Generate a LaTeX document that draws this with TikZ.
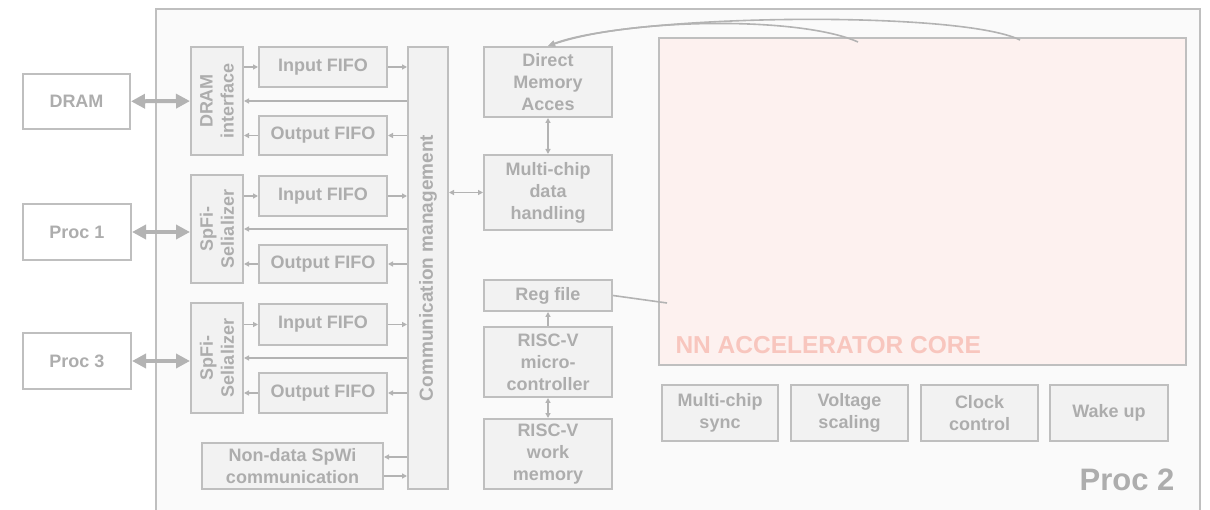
\documentclass[tikz,border=0pt]{standalone}
\usepackage{fontspec}
\setmainfont{Liberation Sans}
\usepackage{xcolor}
\usetikzlibrary{arrows.meta,calc}

\definecolor{boxline}{HTML}{BFBFBF}
\definecolor{boxfill}{HTML}{F2F2F2}
\definecolor{chipfill}{HTML}{FAFAFA}
\definecolor{boxtext}{HTML}{ADADAD}
\definecolor{wirecol}{HTML}{B3B3B3}
\definecolor{corefill}{HTML}{FDF1EF}
\definecolor{coretext}{HTML}{F8C6BE}

\begin{document}
\begin{tikzpicture}[x=1pt,y=-1pt,
    blk/.style={draw=boxline,line width=2pt,fill=boxfill,text=boxtext,inner sep=0pt,
      font=\fontsize{18}{22}\selectfont\bfseries,align=center},
    extblk/.style={blk,fill=white},
    vtext/.style={rotate=90,text=boxtext,font=\fontsize{18}{21}\selectfont\bfseries,align=center},
    wire/.style={draw=wirecol,line width=1.6pt,-{Triangle[length=5pt,width=5pt]}},
    dwire/.style={wire,{Triangle[length=5pt,width=5pt]}-{Triangle[length=5pt,width=5pt]}},
    bus/.style={draw=wirecol,line width=4pt,{Triangle[length=14pt,width=14pt]}-{Triangle[length=14pt,width=14pt]}}]
  \useasboundingbox (0,0) rectangle (1210,510);
  \clip (0,0) rectangle (1210,510);

  % the chip itself
  \node[draw=boxline,line width=2pt,fill=chipfill,inner sep=0pt,anchor=north west,
        minimum width=1044pt,minimum height=530pt] (proc2) at (155,8) {};
  \node[text=boxtext,font=\fontsize{31}{31}\selectfont\bfseries] (p2name) at (1127,480) {Proc 2};

  % outside world
  \node[extblk,minimum width=107pt,minimum height=55pt] (dram) at (76.5,101.5) {DRAM};
  \node[extblk,minimum width=108pt,minimum height=56pt] (proc1) at (77,232) {Proc 1};
  \node[extblk,minimum width=108pt,minimum height=56pt] (proc3) at (77,361) {Proc 3};

  % link interfaces
  \node[blk,minimum width=52pt,minimum height=108pt] (dramif) at (217,101) {};
  \node[vtext] at (dramif) {DRAM\\interface};
  \node[blk,minimum width=52pt,minimum height=108pt] (ser1) at (217,229) {};
  \node[vtext] at (ser1) {SpFi-\\Selializer};
  \node[blk,minimum width=52pt,minimum height=110pt] (ser2) at (217,358) {};
  \node[vtext] at (ser2) {SpFi-\\Selializer};

  % fifos
  \node[blk,minimum width=128pt,minimum height=40pt] (in1) at (323,67) {Input FIFO};
  \node[blk,minimum width=128pt,minimum height=39pt] (out1) at (323,135.5) {Output FIFO};
  \node[blk,minimum width=128pt,minimum height=40pt] (in2) at (323,196) {Input FIFO};
  \node[blk,minimum width=128pt,minimum height=38pt] (out2) at (323,264) {Output FIFO};
  \node[blk,minimum width=128pt,minimum height=41pt] (in3) at (323,324.5) {Input FIFO};
  \node[blk,minimum width=128pt,minimum height=40pt] (out3) at (323,393) {Output FIFO};
  \node[blk,minimum width=181pt,minimum height=46pt] (nondata) at (292.5,466) {Non-data SpWi\\communication};

  \node[blk,minimum width=40pt,minimum height=442pt] (comm) at (428,268) {};
  \node[vtext,font=\fontsize{19}{21}\selectfont\bfseries] at (comm) {Communication management};

  % data path and controller
  \node[blk,minimum width=128pt,minimum height=70pt] (dma) at (548,82) {Direct\\Memory\\Acces};
  \node[blk,minimum width=128pt,minimum height=75pt] (mcdata) at (548,192.5) {Multi-chip\\data\\handling};
  \node[blk,minimum width=128pt,minimum height=31pt] (regfile) at (548,295.5) {Reg file};
  \node[blk,minimum width=128pt,minimum height=70pt] (riscv) at (548,362) {RISC-V\\micro-\\controller};
  \node[blk,minimum width=128pt,minimum height=70pt] (workmem) at (548,454) {RISC-V\\work\\memory};

  % accelerator
  \node[draw=boxline,line width=2pt,fill=corefill,inner sep=0pt,
        minimum width=527pt,minimum height=327pt] (core) at (922.5,201.5) {};
  \node[anchor=base west,text=coretext,font=\fontsize{24.5}{24.5}\selectfont\bfseries] (corename) at (672,354) {NN ACCELERATOR CORE};
  \coordinate (coreport) at (667,303);
  \coordinate (tapA) at (858,42);
  \coordinate (tapB) at (1020,40);

  \node[blk,minimum width=116pt,minimum height=56pt] (sync) at (720,413) {Multi-chip\\sync};
  \node[blk,minimum width=117pt,minimum height=56pt] (volt) at (849.5,413) {Voltage\\scaling};
  \node[blk,minimum width=117pt,minimum height=56pt] (clock) at (979.5,413) {Clock\\control};
  \node[blk,minimum width=118pt,minimum height=56pt] (wake) at (1109,413) {Wake up};

  % external links
  \draw[bus] (dram) -- (dramif);
  \draw[bus] (proc1.east) -- (ser1.west |- proc1.east);
  \draw[bus] (proc3.east) -- (ser2.west |- proc3.east);

  % fifo wiring
  \foreach \src/\inf/\outf in {dramif/in1/out1, ser1/in2/out2, ser2/in3/out3} {
    \draw[wire] (\src.east |- \inf) -- (\inf);
    \draw[wire] (\inf) -- (comm.west |- \inf);
    \draw[wire] (comm.west |- \src) -- (\src.east);
    \draw[wire] (comm.west |- \outf) -- (\outf);
    \draw[wire] (\outf) -- (\src.east |- \outf);
  }
  \draw[wire] (comm.west |- 0,457) -- (nondata.east |- 0,457);
  \draw[wire] (nondata.east |- 0,476) -- (comm.west |- 0,476);

  \draw[dwire] (comm.east |- mcdata) -- (mcdata);
  \draw[dwire] (dma) -- (mcdata);
  \draw[wire] (riscv) -- (regfile);
  \draw[dwire] (riscv) -- (workmem);
  \draw[draw=wirecol,line width=1.6pt] (regfile.east) -- (coreport);

  % core to DMA
  \draw[wire,-{Triangle[length=7pt,width=6pt]}] (tapA) .. controls (800,16) and (630,18) .. (dma.north);
  \draw[wire,-{Triangle[length=7pt,width=6pt]}] (tapB) .. controls (960,10) and (630,14) .. (dma.north);
\end{tikzpicture}
\end{document}
